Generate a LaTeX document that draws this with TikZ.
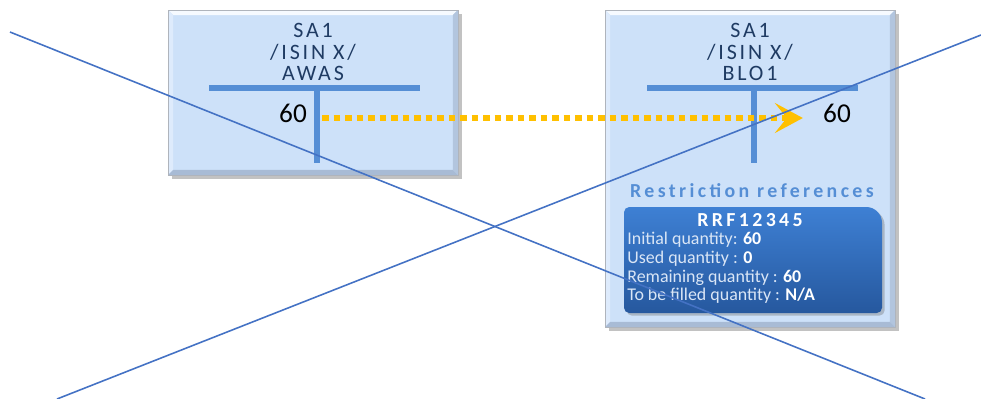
\documentclass[tikz,border=0pt]{standalone}
\usepackage{fontspec}
\setmainfont{Carlito}
\newfontfamily\widefont[LetterSpace=13]{Carlito}
\newfontfamily\widerfont[LetterSpace=17]{Carlito}
\definecolor{boxblue}{RGB}{205,225,249}
\definecolor{bevtop}{RGB}{246,250,255}
\definecolor{bevleft}{RGB}{222,235,252}
\definecolor{bevright}{RGB}{178,197,222}
\definecolor{bevbottom}{RGB}{168,187,213}
\definecolor{boxline}{RGB}{175,180,188}
\definecolor{barblue}{RGB}{85,142,213}
\definecolor{headblue}{RGB}{31,59,99}
\definecolor{flowgold}{RGB}{255,192,0}
\definecolor{crossblue}{RGB}{68,114,196}
\definecolor{cardtop}{RGB}{62,128,212}
\definecolor{cardbot}{RGB}{38,88,158}
\definecolor{cardtext}{RGB}{218,230,246}
\usetikzlibrary{arrows.meta, positioning, calc, shadows}

\newcommand\bev{0.1cm}

\tikzset{
  acctbox/.style={rectangle, fill=boxblue, draw=boxline, line width=0.4pt,
    drop shadow={shadow xshift=2.5pt, shadow yshift=-2.5pt, opacity=0.4, fill=black!60},
    path picture={
      \coordinate (nw) at (path picture bounding box.north west);
      \coordinate (ne) at (path picture bounding box.north east);
      \coordinate (sw) at (path picture bounding box.south west);
      \coordinate (se) at (path picture bounding box.south east);
      \fill[bevtop] (nw) -- (ne) -- ([shift={(-\bev,-\bev)}]ne) -- ([shift={(\bev,-\bev)}]nw) -- cycle;
      \fill[bevleft] (nw) -- ([shift={(\bev,-\bev)}]nw) -- ([shift={(\bev,\bev)}]sw) -- (sw) -- cycle;
      \fill[bevright] (ne) -- ([shift={(-\bev,-\bev)}]ne) -- ([shift={(-\bev,\bev)}]se) -- (se) -- cycle;
      \fill[bevbottom] (sw) -- ([shift={(\bev,\bev)}]sw) -- ([shift={(-\bev,\bev)}]se) -- (se) -- cycle;}},
  head/.style={align=center, text=headblue, inner sep=0pt, font=\widefont\fontsize{12.5}{12}\selectfont},
  tbar/.style={barblue, line width=3pt},
  val/.style={inner sep=0pt, font=\fontsize{15.5}{16}\selectfont},
  flow/.style={flowgold, line width=3.2pt, dash pattern=on 0.13cm off 0.1cm,
    -{Stealth[length=0.56cm, width=0.6cm, inset=0.24cm]}},
  reftitle/.style={inner sep=0pt, text=barblue, font=\widerfont\bfseries\fontsize{11.3}{12}\selectfont},
  cardhead/.style={inner sep=0pt, text=white, font=\widerfont\bfseries\fontsize{11.3}{12}\selectfont},
  cardline/.style={anchor=west, inner sep=0pt, text=cardtext, font=\fontsize{10.2}{10.6}\selectfont},
  cross/.style={crossblue, line width=0.9pt}
}

\begin{document}
\begin{tikzpicture}[x=0.02cm, y=-0.02cm]
  \useasboundingbox (0,0) rectangle (981,399);

  % account boxes
  \node[acctbox, minimum width=5.8cm, minimum height=3.3cm] (awas) at (313,92.5) {};
  \node[acctbox, minimum width=5.8cm, minimum height=6.34cm] (blo1) at (750,168.5) {};

  \node[head] (awashead) at (313,52) {SA1\\/ISIN X/\\AWAS};
  \node[head] (blohead) at (750,52) {SA1\\/ISIN X/\\BLO1};

  % T accounts
  \draw[tbar] (209,88) -- (420,88) (317,88) -- (317,163);
  \draw[tbar] (647,88) -- (858,88) (754,88) -- (754,163);

  \node[val] (awasval) at (293,113) {60};
  \node[val] (bloval) at (837,113) {60};

  \draw[flow, shorten <=0.3cm, shorten >=0.4cm]
    ([yshift=-0.1cm]awasval.east) -- ([yshift=-0.1cm]bloval.west);

  % restriction card
  \node[reftitle] (reftitle) at (752,191) {Restriction references};
  \shade[top color=cardtop, bottom color=cardbot,
    drop shadow={shadow xshift=1.5pt, shadow yshift=-1.5pt, opacity=0.35, fill=black!60}]
    (624,260) [rounded corners=3pt] -- (624,207) [rounded corners=9pt] -- (882,207)
    [rounded corners=3pt] -- (882,313) -- (624,313) -- cycle;
  \node[cardhead] (rrf) at (750,220) {RRF12345};
  \node[cardline] (initq) at (627,240) {Initial quantity: \textcolor{white}{\bfseries 60}};
  \node[cardline] (usedq) at (627,259) {Used quantity : \textcolor{white}{\bfseries 0}};
  \node[cardline] (remq) at (627,277.5) {Remaining quantity : \textcolor{white}{\bfseries 60}};
  \node[cardline] (fillq) at (627,296) {To be filled quantity : \textcolor{white}{\bfseries N/A}};

  % cross
  \draw[cross] (10,32) -- (925,399);
  \draw[cross] (57,399) -- (981,35);
\end{tikzpicture}
\end{document}
